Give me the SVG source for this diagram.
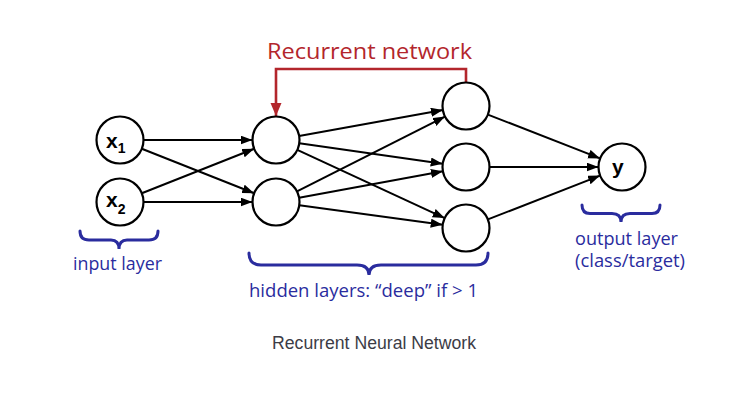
<svg xmlns="http://www.w3.org/2000/svg" width="748" height="415" viewBox="0 0 748 415">
<style>
.node{fill:#fff;stroke:#000;stroke-width:2.2}
.edge{stroke:#000;stroke-width:2;fill:none;marker-end:url(#ah)}
.rec{stroke:#b3262c;stroke-width:2.6;fill:none;marker-end:url(#ahr)}
.brace{stroke:#2a2c9e;stroke-width:3;fill:none;stroke-linecap:round}
.lbl{font-family:"Liberation Sans",Arial,sans-serif;font-weight:bold;font-size:21px;fill:#000}
.sub{font-size:14px}
.blue{font-family:"Open Sans","Liberation Sans",sans-serif;font-size:17.5px;fill:#2a2c9e}
.red{font-family:"Open Sans","Liberation Sans",sans-serif;font-size:22px;fill:#b3262c}
.cap{font-family:"Liberation Sans",Arial,sans-serif;font-size:17.5px;fill:#3c3c46}
</style>
<defs>
<marker id="ah" markerUnits="userSpaceOnUse" markerWidth="13" markerHeight="10" refX="12" refY="4.5" orient="auto">
<path d="M0,0 L12,4.5 L0,9 z" fill="#000"/>
</marker>
<marker id="ahr" markerUnits="userSpaceOnUse" markerWidth="14" markerHeight="12" refX="13" refY="5.5" orient="auto">
<path d="M0,0 L13,5.5 L0,11 z" fill="#b3262c"/>
</marker>
</defs>
<rect width="748" height="415" fill="#fff"/>
<g id="connectors">
<line class="edge" x1="143.5" y1="140" x2="252.5" y2="140"/>
<line class="edge" x1="141.8" y1="148.7" x2="254.2" y2="193.3"/>
<line class="edge" x1="141.8" y1="193.3" x2="254.2" y2="148.7"/>
<line class="edge" x1="143.5" y1="202" x2="252.5" y2="202"/>
<line class="edge" x1="299.1" y1="135.9" x2="442.9" y2="110.1"/>
<line class="edge" x1="299.3" y1="143.3" x2="442.7" y2="163.7"/>
<line class="edge" x1="297.3" y1="149.9" x2="444.7" y2="218.1"/>
<line class="edge" x1="297" y1="191.4" x2="445" y2="116.6"/>
<line class="edge" x1="299.1" y1="197.7" x2="442.9" y2="171.3"/>
<line class="edge" x1="299.3" y1="205.2" x2="442.7" y2="224.8"/>
<line class="edge" x1="487.9" y1="114.6" x2="600.1" y2="158.4"/>
<line class="edge" x1="489.5" y1="167" x2="598.5" y2="167"/>
<line class="edge" x1="487.9" y1="219.4" x2="600.1" y2="175.6"/>
<path class="rec" d="M466,82.5 V69 H276 V116"/>
</g>
<g id="x1"><circle class="node" cx="120" cy="140" r="23.5"/><text class="lbl" x="106" y="148">x<tspan class="sub" dy="4.5">1</tspan></text></g>
<g id="x2"><circle class="node" cx="120" cy="202" r="23.5"/><text class="lbl" x="106" y="207">x<tspan class="sub" dy="7">2</tspan></text></g>
<g id="h1a"><circle class="node" cx="276" cy="140" r="23.5"/></g>
<g id="h1b"><circle class="node" cx="276" cy="202" r="23.5"/></g>
<g id="h2a"><circle class="node" cx="466" cy="106" r="23.5"/></g>
<g id="h2b"><circle class="node" cx="466" cy="167" r="23.5"/></g>
<g id="h2c"><circle class="node" cx="466" cy="228" r="23.5"/></g>
<g id="y"><circle class="node" cx="622" cy="167" r="23.5"/><text class="lbl" x="612" y="174">y</text></g>
<g id="labels">
<text class="red" x="267" y="59" textLength="205" lengthAdjust="spacingAndGlyphs">Recurrent network</text>
<path class="brace" d="M80,231 Q80,240 89,240 H111 Q119,240 119,249 Q119,240 127,240 H149 Q158,240 158,231"/>
<text class="blue" x="73" y="270" textLength="89" lengthAdjust="spacingAndGlyphs">input layer</text>
<path class="brace" d="M249,253 Q249,265 261,265 H357 Q369,265 369,275 Q369,265 381,265 H476 Q488,265 488,253"/>
<text class="blue" x="249" y="297" textLength="229" lengthAdjust="spacingAndGlyphs">hidden layers: “deep” if &gt; 1</text>
<path class="brace" d="M582,205 Q582,213.5 590,213.5 H612 Q621,213.5 621,222 Q621,213.5 630,213.5 H652 Q660,213.5 660,205"/>
<text class="blue" x="575" y="245" textLength="103" lengthAdjust="spacingAndGlyphs">output layer</text>
<text class="blue" x="575" y="267" textLength="110" lengthAdjust="spacingAndGlyphs">(class/target)</text>
<text class="cap" x="272" y="349" textLength="204" lengthAdjust="spacingAndGlyphs">Recurrent Neural Network</text>
</g>
</svg>
